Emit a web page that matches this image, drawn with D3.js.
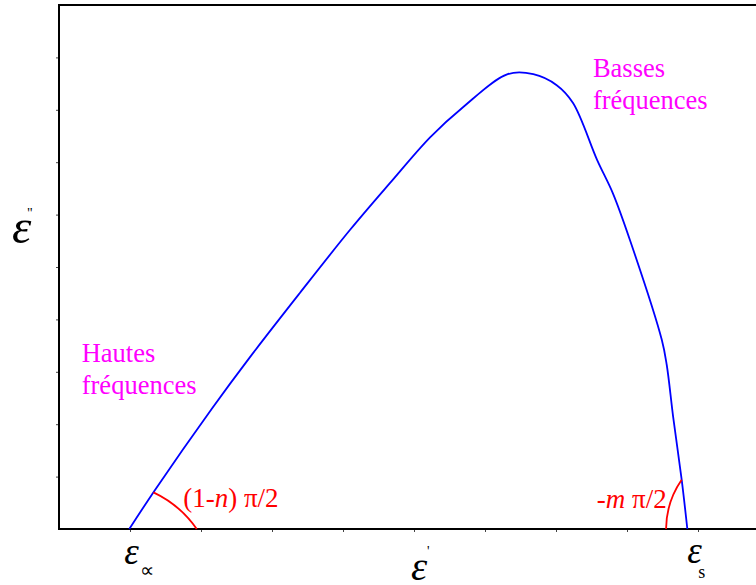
<!DOCTYPE html>
<html>
<head>
<meta charset="utf-8">
<script src="https://cdn.jsdelivr.net/npm/d3@7/dist/d3.min.js"></script>
<style>
body { margin: 0; background: #fff; }
svg { display: block; }
svg text { font-family: "Liberation Serif", "Times New Roman", serif; }
</style>
</head>
<body>
<div id="chart"></div>
<script>
// diagramme de Cole-Cole, valeurs en unités de graduation
var epsReal = [0.99, 1.35, 2.15, 2.69, 3.39, 4.10, 4.66, 5.23, 5.69, 6.32, 6.68, 7.01, 7.24, 7.58, 7.80, 8.04, 8.49, 8.56, 8.65, 8.77, 8.85]
var epsImag = [0, 0.74, 2.29, 3.28, 4.50, 5.71, 6.60, 7.48, 8.05, 8.68, 8.68, 8.47, 8.13, 7.04, 6.41, 5.52, 3.61, 3.13, 2.14, 0.94, 0]

var xTicks = [1, 2, 3, 4, 5, 6, 7, 8, 9]
var yTicks = [1, 2, 3, 4, 5, 6, 7, 8, 9]

var epsInf = 0.99
var epsS = 8.85

// angles annotés : départ sur la courbe, arrivée sur l'axe
var arcLeft = {from: [1.33, 0.70], to: [1.94, 0]}
var arcRight = {from: [8.77, 0.94], to: [8.55, 0]}

var serif = "'Liberation Serif', 'Times New Roman', serif"

var width = 756, height = 585

function draw() {

	var x = d3.scaleLinear().domain([0, 10]).range([59, 769])
	var y = d3.scaleLinear().domain([0, 10]).range([529, 5])

	var svg = d3.select("#chart").append("svg")
		.attr("width", width)
		.attr("height", height)
		.attr("font-family", serif)

	// graduations
	svg.append("g")
		.attr("transform", "translate(" + x(0) + ",0)")
		.call(d3.axisLeft(y).tickValues(yTicks).tickSize(3).tickFormat(""))
		.call(g => g.select(".domain").remove())
		.selectAll("line").attr("stroke", "#444")

	svg.append("g")
		.attr("transform", "translate(0," + y(0) + ")")
		.call(d3.axisBottom(x).tickValues(xTicks).tickSize(3).tickFormat(""))
		.call(g => g.select(".domain").remove())
		.selectAll("line").attr("stroke", "#444")

	// cadre
	svg.append("path")
		.attr("d", "M" + width + "," + y(10) + "H" + x(0) + "V" + y(0) + "H" + width)
		.attr("fill", "none")
		.attr("stroke", "#000")
		.attr("stroke-width", 2)

	// courbe
	var pts = epsReal.map((d, i) => [d, epsImag[i]])

	var line = d3.line()
		.x(d => x(d[0]))
		.y(d => y(d[1]))
		.curve(d3.curveCatmullRom.alpha(0.5))

	svg.append("path")
		.datum(pts)
		.attr("d", line)
		.attr("fill", "none")
		.attr("stroke", "#0000ff")
		.attr("stroke-width", 1.8)

	// arcs d'angle
	function arcPath(a, r, sweep) {
		return "M" + x(a.from[0]) + "," + y(a.from[1]) +
			"A" + r + "," + r + " 0 0 " + sweep + " " + x(a.to[0]) + "," + y(a.to[1])
	}

	svg.append("path")
		.attr("d", arcPath(arcLeft, 110, 1))
		.attr("fill", "none")
		.attr("stroke", "#ff0000")
		.attr("stroke-width", 1.8)

	svg.append("path")
		.attr("d", arcPath(arcRight, 88, 0))
		.attr("fill", "none")
		.attr("stroke", "#ff0000")
		.attr("stroke-width", 1.8)

	function addText(px, py, size, color) {
		return svg.append("text")
			.attr("x", px).attr("y", py)
			.attr("fill", color)
			.attr("font-size", size)
			.style("font-family", serif)
	}

	var t1 = addText(x(1.75), y(0.42), 27, "#ff0000")
	t1.append("tspan").text("(1-")
	t1.append("tspan").style("font-style", "italic").text("n")
	t1.append("tspan").text(") π/2")

	var t2 = addText(x(8.56), y(0.40), 27, "#ff0000")
		.attr("text-anchor", "end")
	t2.append("tspan").text("-")
	t2.append("tspan").style("font-style", "italic").text("m")
	t2.append("tspan").text(" π/2")

	// étiquettes de fréquence
	function twoLines(px, py, a, b) {
		var t = addText(x(px), y(py), 26.5, "#ff00ff")
		t.append("tspan").attr("x", x(px)).text(a)
		t.append("tspan").attr("x", x(px)).attr("dy", 32).text(b)
	}
	twoLines(0.32, 3.19, "Hautes", "fréquences")
	twoLines(7.52, 8.63, "Basses", "fréquences")

	// titres des axes
	function epsLabel(px, py, size, mark, dx, dy, markSize) {
		addText(px, py, size, "#000").style("font-style", "italic").text("ε")
		if (mark) addText(px + dx, py + dy, markSize, "#000").text(mark)
	}

	epsLabel(12, 243, 49, "\"", 15, -25, 14)
	epsLabel(411, 580, 41, "'", 16, -24, 14)
	epsLabel(x(epsInf) - 5, 564, 37, "∝", 16, 13, 20)
	epsLabel(x(epsS), 563, 37, "s", 11, 15, 18)
}

if (document.fonts && document.fonts.load) {
	Promise.all([
		document.fonts.load("26px 'Liberation Serif'"),
		document.fonts.load("italic 26px 'Liberation Serif'")
	]).then(draw, draw)
} else {
	draw()
}
</script>
</body>
</html>
